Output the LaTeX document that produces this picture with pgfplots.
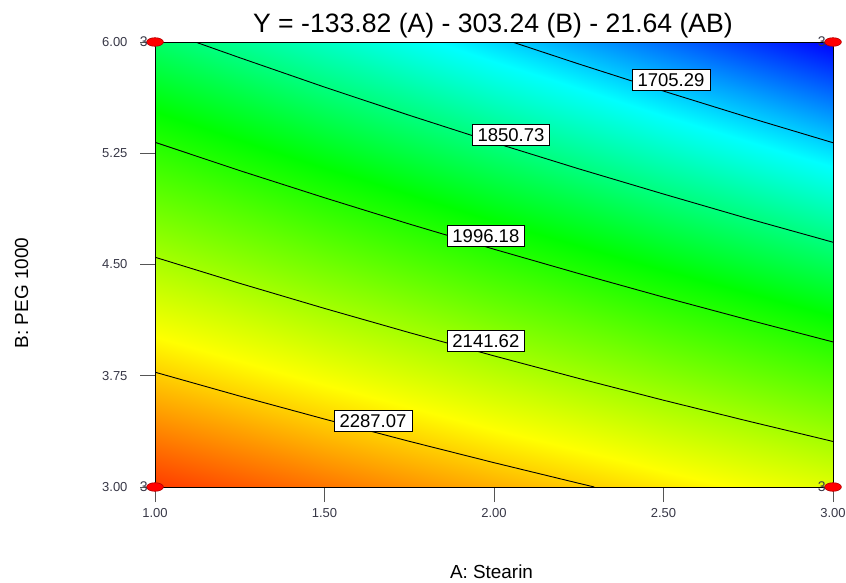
\documentclass[border=0pt]{standalone}
\usepackage{fontspec}
\setmainfont{Liberation Sans}
\usepackage{pgfplots}
\pgfplotsset{compat=1.18}
\definecolor{ticktext}{RGB}{55,55,70}
\definecolor{tickline}{RGB}{85,85,85}
\definecolor{dotred}{RGB}{255,0,0}
\begin{document}
\begin{tikzpicture}
\useasboundingbox (0pt,0pt) rectangle (846pt,582pt);
\begin{axis}[
  axis on top,
  at={(155pt,95pt)}, anchor=south west,
  scale only axis, width=678pt, height=445pt,
  xmin=1, xmax=3, ymin=3, ymax=6,
  xtick={1,1.5,2,2.5,3}, xticklabels={1.00,1.50,2.00,2.50,3.00},
  ytick={3,3.75,4.5,5.25,6}, yticklabels={3.00,3.75,4.50,5.25,6.00},
  xtick pos=bottom, ytick pos=left, tick align=outside,
  major tick length=15pt,
  tick style={draw=tickline, line width=0.9pt},
  ticklabel style={font=\fontsize{13}{15}\selectfont, text=ticktext},
  xticklabel style={yshift=-3pt},
  yticklabel style={xshift=-9pt},
  axis line style={black, line width=1pt},
  colormap={dx}{rgb255(0pt)=(0,0,255); rgb255(186pt)=(0,255,255); rgb255(407pt)=(0,255,0); rgb255(697pt)=(255,255,0); rgb255(950pt)=(255,0,0)},
  point meta min=1558.3, point meta max=2490,
]
% response surface on a 5x5 grid (A, B, Y)
\addplot[surf, shader=interp, mesh/cols=5, point meta=explicit] table[x=A, y=B, meta=Y] {
A    B     Y
1.0  3.00  2432.42
1.5  3.00  2376.33
2.0  3.00  2320.24
2.5  3.00  2264.15
3.0  3.00  2208.06
1.0  3.75  2291.62
1.5  3.75  2230.12
2.0  3.75  2168.62
2.5  3.75  2107.12
3.0  3.75  2045.62
1.0  4.50  2150.82
1.5  4.50  2083.91
2.0  4.50  2017.00
2.5  4.50  1950.09
3.0  4.50  1883.18
1.0  5.25  2010.02
1.5  5.25  1937.70
2.0  5.25  1865.38
2.5  5.25  1793.06
3.0  5.25  1720.74
1.0  6.00  1869.22
1.5  6.00  1791.49
2.0  6.00  1713.76
2.5  6.00  1636.03
3.0  6.00  1558.30
};
% contour lines
\addplot[black, line width=0.9pt] coordinates {(1,3.774) (1.25,3.613) (1.5,3.458) (1.75,3.308) (2,3.164) (2.25,3.025) (2.296,3.0)};
\addplot[black, line width=0.9pt] coordinates {(1,4.549) (1.25,4.373) (1.5,4.204) (1.75,4.041) (2,3.884) (2.25,3.732) (2.5,3.585) (2.75,3.444) (3,3.307)};
\addplot[black, line width=0.9pt] coordinates {(1,5.324) (1.25,5.133) (1.5,4.950) (1.75,4.773) (2,4.603) (2.25,4.439) (2.5,4.280) (2.75,4.127) (3,3.978)};
\addplot[black, line width=0.9pt] coordinates {(1.119,6) (1.25,5.894) (1.5,5.696) (1.75,5.506) (2,5.322) (2.25,5.145) (2.5,4.975) (2.75,4.809) (3,4.650)};
\addplot[black, line width=0.9pt] coordinates {(2.054,6) (2.25,5.852) (2.5,5.669) (2.75,5.492) (3,5.321)};
% contour labels
\begin{scope}[every node/.style={fill=white, draw=black, line width=0.8pt, inner xsep=5.5pt, inner ysep=4pt, font=\fontsize{18.5}{20}\selectfont}]
\node at (axis cs:2.522,5.744) {1705.29};
\node at (axis cs:2.050,5.373) {1850.73};
\node at (axis cs:1.976,4.692) {1996.18};
\node at (axis cs:1.976,3.984) {2141.62};
\node at (axis cs:1.643,3.445) {2287.07};
\end{scope}
\end{axis}
% overlay axis for the design points (drawn above the frame)
\begin{axis}[
  at={(155pt,95pt)}, anchor=south west,
  scale only axis, width=678pt, height=445pt,
  xmin=1, xmax=3, ymin=3, ymax=6,
  axis lines=none, clip=false,
]
\addplot[only marks, mark=*, mark size=4.3pt,
  mark options={xscale=1.95, fill=dotred, draw=red!70!black, line width=0.6pt},
  nodes near coords={3},
  nodes near coords style={anchor=east, xshift=-5pt, inner sep=2pt, font=\fontsize{14}{16}\selectfont, text=ticktext}]
  coordinates {(1,3) (3,3) (1,6) (3,6)};
\end{axis}
\node[anchor=base, font=\fontsize{26.6}{30}\selectfont] at (493pt,549pt) {Y = -133.82 (A) - 303.24 (B) - 21.64 (AB)};
\node[anchor=base, font=\fontsize{18.9}{22}\selectfont] at (491.5pt,4pt) {A: Stearin};
\node[anchor=base, rotate=90, font=\fontsize{18.9}{22}\selectfont] at (28pt,289pt) {B: PEG 1000};
\end{tikzpicture}
\end{document}
